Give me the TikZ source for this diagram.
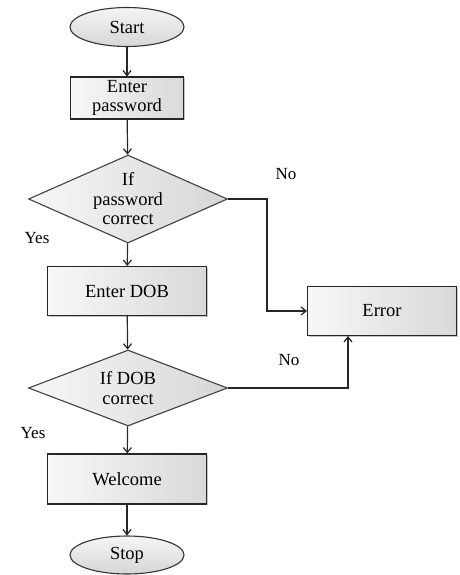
\documentclass[tikz,border=0pt]{standalone}
\usepackage{fontspec}
\setmainfont{Liberation Serif}
\usetikzlibrary{shapes.geometric, arrows.meta, shadows}

\begin{document}
\begin{tikzpicture}[
			x=1pt, y=1pt,
			terminal/.style={ellipse, draw=black!80, line width=1.1pt, top color=gray!8, bottom color=gray!32, minimum width=114pt, minimum height=39pt, inner sep=0pt, font=\fontsize{18.5}{19.5}\selectfont},
			process/.style={rectangle, draw=black!85, line width=1.1pt, left color=gray!6, right color=gray!30, minimum width=159pt, minimum height=49pt, align=center, inner sep=0pt, font=\fontsize{18.5}{19.5}\selectfont, drop shadow={shadow xshift=1.2pt, shadow yshift=-1.2pt, fill=black!45}},
			decision/.style={diamond, draw=black!75, line width=1.1pt, left color=gray!6, right color=gray!32, shape aspect=2.26, minimum width=199pt, minimum height=88pt, align=center, inner sep=0pt, font=\fontsize{18.5}{19.5}\selectfont},
			arrow/.style={-{Straight Barb[length=5pt, width=8pt]}, line width=1.2pt, draw=black!85},
			answer/.style={font=\fontsize{17}{18}\selectfont, text=black}
			]
			
			\useasboundingbox (0,0) rectangle (460,-575);
			
			\node[terminal] (start) at (127,-27) {Start};
			\node[process, minimum width=113pt, minimum height=42pt] (pwd) at (127,-98) {Enter\\password};
			\node[decision] (chkpwd) at (128,-199) {If\\password\\correct};
			\node[process] (dob) at (127,-291) {Enter DOB};
			\node[decision, minimum height=76pt] (chkdob) at (128,-388) {If DOB\\correct};
			\node[process, minimum height=50pt] (welcome) at (127,-479) {Welcome};
			\node[terminal, minimum height=38pt] (stop) at (127,-555) {Stop};
			\node[process, minimum width=149pt] (error) at (382,-311) {Error};
			
			\node[answer] (no1) at (286,-174) {No};
			\node[answer] (yes1) at (37,-238) {Yes};
			\node[answer] (no2) at (289,-360) {No};
			\node[answer] (yes2) at (33,-433) {Yes};
			
			\coordinate (pwdturn) at (267,-199);
			
			\draw[arrow] (start) -- (pwd);
			\draw[arrow] (pwd) -- (chkpwd);
			\draw[arrow] (chkpwd) -- (dob);
			\draw[arrow] (dob) -- (chkdob);
			\draw[arrow] (chkdob) -- (welcome);
			\draw[arrow] (welcome) -- (stop);
			\draw[arrow] (chkpwd.east) -- (pwdturn) |- (error.west);
			\draw[arrow] (chkdob.east) -| ([xshift=-34pt]error.south);
		\end{tikzpicture}
\end{document}
